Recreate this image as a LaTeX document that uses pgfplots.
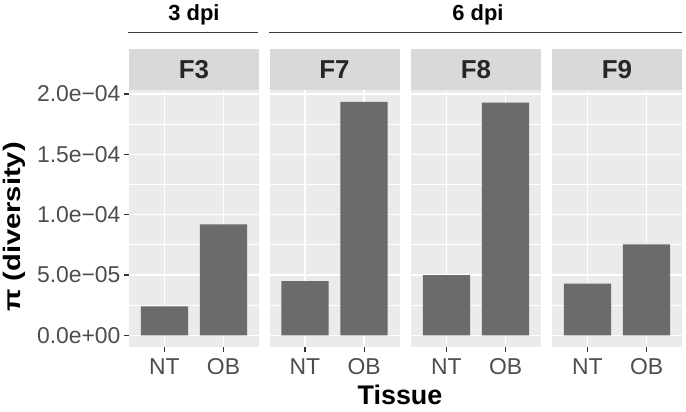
\documentclass[border=0pt]{standalone}
\usepackage{fontspec}
\setmainfont{Liberation Sans}
\usepackage{pgfplots}
\pgfplotsset{compat=1.18}
\definecolor{panelbg}{HTML}{EBEBEB}
\definecolor{stripc}{HTML}{D9D9D9}
\definecolor{barc}{HTML}{6B6B6B}
\definecolor{labc}{HTML}{4D4D4D}
\definecolor{tickc}{HTML}{333333}
\definecolor{linec}{HTML}{3A3A3A}
\pgfplotsset{
  panel/.style={
    scale only axis, width=130bp, height=257bp, anchor=south west,
    xmin=0.4, xmax=2.6, ymin=-0.97e-5, ymax=2.033e-4,
    xtick={1,2}, xticklabels={NT,OB},
    ytick={0,5e-5,1e-4,1.5e-4,2e-4},
    minor ytick={2.5e-5,7.5e-5,1.25e-4,1.75e-4},
    xtick pos=bottom, ytick pos=left,
    grid=both,
    major grid style={white, line width=1.5bp},
    minor grid style={white, line width=0.75bp},
    axis line style={draw=none},
    axis background/.style={fill=panelbg},
    tick align=outside, major tick length=5bp, minor tick length=0pt,
    tick style={color=tickc, line width=1.1bp},
    ticklabel style={color=labc, font=\fontsize{23}{25}\selectfont},
    xticklabel style={yshift=-3bp},
    scaled y ticks=false,
    clip=false,
  },
  nolab/.style={yticklabels={}, ytick style={draw=none}},
}
\newcommand{\strip}[1]{%
  \fill[stripc] (rel axis cs:0,1) rectangle ([yshift=41bp]rel axis cs:1,1);
  \node[font=\fontsize{26}{28}\selectfont\bfseries, text=black!85] at ([yshift=20.5bp]rel axis cs:0.5,1) {#1};
}
\begin{document}
\begin{tikzpicture}[x=1bp,y=1bp]
\useasboundingbox (0,0) rectangle (686,411);

\begin{axis}[panel, at={(129bp,64bp)},
  yticklabels={0.0e+00,5.0e−05,1.0e−04,1.5e−04,2.0e−04}]
\addplot[ybar, bar width=0.8, fill=barc, draw=none] coordinates {(1,2.4e-5) (2,9.2e-5)};
\strip{F3}
\end{axis}

\begin{axis}[panel, nolab, at={(269.5bp,64bp)}]
\addplot[ybar, bar width=0.8, fill=barc, draw=none] coordinates {(1,4.48e-5) (2,1.935e-4)};
\strip{F7}
\end{axis}

\begin{axis}[panel, nolab, at={(411bp,64bp)}]
\addplot[ybar, bar width=0.8, fill=barc, draw=none] coordinates {(1,4.98e-5) (2,1.928e-4)};
\strip{F8}
\end{axis}

\begin{axis}[panel, nolab, at={(552bp,64bp)}]
\addplot[ybar, bar width=0.8, fill=barc, draw=none] coordinates {(1,4.28e-5) (2,7.53e-5)};
\strip{F9}
\end{axis}

\draw[linec, line width=1.3bp] (128,378.5) -- (258,378.5);
\draw[linec, line width=1.3bp] (269,378.5) -- (682,378.5);
\node[font=\fontsize{22}{24}\selectfont\bfseries] at (194,396) {3 dpi};
\node[font=\fontsize{22}{24}\selectfont\bfseries] at (478,396) {6 dpi};
\node[font=\fontsize{27}{29}\selectfont\bfseries] at (400,16) {Tissue};
\node[font=\fontsize{24}{26}\selectfont\bfseries, rotate=90, inner sep=0pt] at (14,184) {\scalebox{1.22}[1]{π (diversity)}};
\end{tikzpicture}
\end{document}
